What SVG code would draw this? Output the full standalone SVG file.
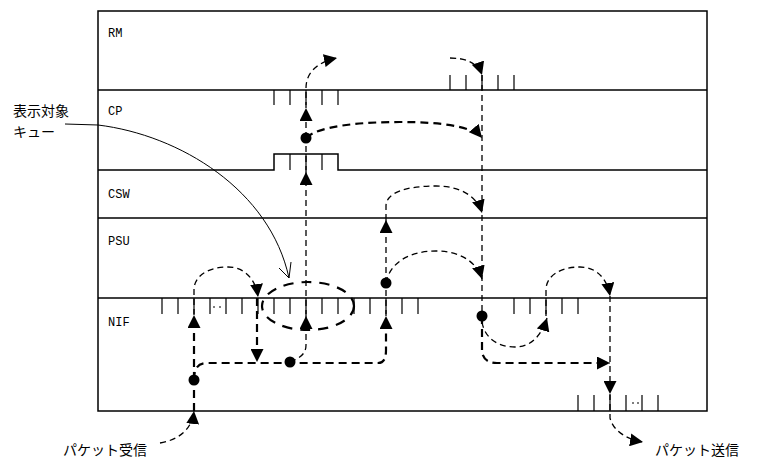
<svg xmlns="http://www.w3.org/2000/svg" width="763" height="471" viewBox="0 0 763 471">
<style>
.frame{fill:none;stroke:#000;stroke-width:1.5}
.tick{stroke:#000;stroke-width:1.2;fill:none}
.lbl{font-family:"Liberation Mono","DejaVu Sans Mono",monospace;font-size:12px;fill:#000}
.jp{font-family:"Noto Sans CJK JP","Noto Sans",sans-serif;font-size:14px;fill:#000}
.d{fill:none;stroke:#000;stroke-width:1.3;stroke-dasharray:6 4}
.dt{fill:none;stroke:#000;stroke-width:2.2;stroke-dasharray:8 5}
.a{marker-end:url(#ah)}
.dot{fill:#000}
</style>
<defs>
<marker id="ah" viewBox="0 0 13 13" refX="13" refY="6.5" markerWidth="13" markerHeight="13" markerUnits="userSpaceOnUse" orient="auto">
<path d="M0,0 L13,6.5 L0,13 z" fill="#000"/>
</marker>
</defs>
<rect width="763" height="471" fill="#fff"/>
<g id="lanes">
<rect class="frame" x="98" y="11" width="609" height="400"/>
<line class="frame" x1="98" y1="90" x2="707" y2="90"/>
<polyline class="frame" points="98,170 274,170 274,154 338,154 338,170 707,170"/>
<line class="frame" x1="98" y1="218" x2="707" y2="218"/>
<line class="frame" x1="98" y1="298" x2="707" y2="298"/>
</g>
<g id="RM"><text class="lbl" x="108" y="37">RM</text>
<path class="tick" d="M450,75V90M466,75V90M482,75V90M498,75V90M514,75V90"/></g>
<g id="CP"><text class="lbl" x="108" y="115">CP</text>
<path class="tick" d="M274,90V105M290,90V105M306,90V105M322,90V105M338,90V105M290,154V170M306,154V170M322,154V170"/></g>
<g id="CSW"><text class="lbl" x="108" y="198">CSW</text></g>
<g id="PSU"><text class="lbl" x="108" y="245">PSU</text></g>
<g id="NIF"><text class="lbl" x="108" y="326">NIF</text>
<path class="tick" d="M162,298V314M178,298V314M194,298V314M210,298V314M226,298V314M242,298V314M258,298V314M274,298V314M290,298V314M306,298V314M322,298V314M338,298V314M354,298V314M370,298V314M386,298V314M402,298V314M418,298V314M514,298V314M530,298V314M546,298V314M562,298V314M578,298V314M578,395V411M594,395V411M610,395V411M626,395V411M642,395V411M658,395V411"/>
<path class="tick" d="M213,307h2M219,307h2M632,403h2M637,403h2"/></g>
<g id="target-queue">
<text class="jp" x="13" y="116">表示対象</text>
<text class="jp" x="13" y="137">キュー</text>
<path d="M65,124 L98,125 C180,135 270,190 289,278" fill="none" stroke="#000" stroke-width="1"/>
<path d="M279,268 L289,278 L291,262" fill="none" stroke="#000" stroke-width="1"/>
<ellipse cx="308" cy="306" rx="46" ry="24" fill="none" stroke="#000" stroke-width="2.2" stroke-dasharray="10 8"/>
</g>
<g id="recv"><text class="jp" x="63" y="455">パケット受信</text></g>
<g id="send"><text class="jp" x="655" y="455">パケット送信</text></g>
<g id="connectors">
<path class="d a" d="M160,443 C178,440 192,430 194,411"/>
<path class="dt" d="M194,411 L194,380"/>
<path class="dt a" d="M194,380 L194,315"/>
<path class="d a" d="M194,315 L194,290 C194,276 208,267 228,267 C245,267 256,280 258,297"/>
<path class="dt a" d="M257,298 L257,362"/>
<path class="dt a" d="M194,380 C194,368 198,363 208,363 L378,363 C384,363 386,358 386,350 L386,316"/>
<path class="d a" d="M290,362 C300,358 306,354 306,345 L306,316"/>
<path class="d a" d="M306,316 L306,172"/>
<path class="d" d="M306,172 L306,138"/>
<path class="d a" d="M306,138 L306,108"/>
<path class="d a" d="M306,108 L306,88 C306,72 318,62 337,58"/>
<path class="dt a" d="M306,138 C318,126 360,122 400,122 C440,122 472,126 482,138"/>
<path class="d a" d="M450,58 C466,58 478,63 482,75"/>
<path class="d" d="M482,75 L482,316"/>
<path class="d" d="M386,316 L386,283"/>
<path class="d a" d="M386,283 L386,220"/>
<path class="d a" d="M386,220 L386,206 C386,193 405,186 436,186 C460,186 477,196 482,213"/>
<path class="d a" d="M386,283 C390,262 410,251 436,251 C460,251 477,262 482,279"/>
<path class="d a" d="M482,322 C485,340 500,347 515,347 C530,347 541,337 547,318"/>
<path class="d a" d="M546,316 L546,290 C546,276 560,267 580,267 C596,267 607,278 610,296"/>
<path class="dt a" d="M482,316 L482,350 C482,358 487,363 497,363 L610,363"/>
<path class="d a" d="M610,296 L610,394"/>
<path class="d a" d="M610,394 L610,418 C613,430 625,439 643,442"/>
<circle class="dot" cx="194" cy="380" r="5.5"/>
<circle class="dot" cx="290" cy="362" r="5.5"/>
<circle class="dot" cx="306" cy="138" r="5.5"/>
<circle class="dot" cx="386" cy="283" r="5.5"/>
<circle class="dot" cx="482" cy="316" r="5.5"/>
</g>
</svg>
